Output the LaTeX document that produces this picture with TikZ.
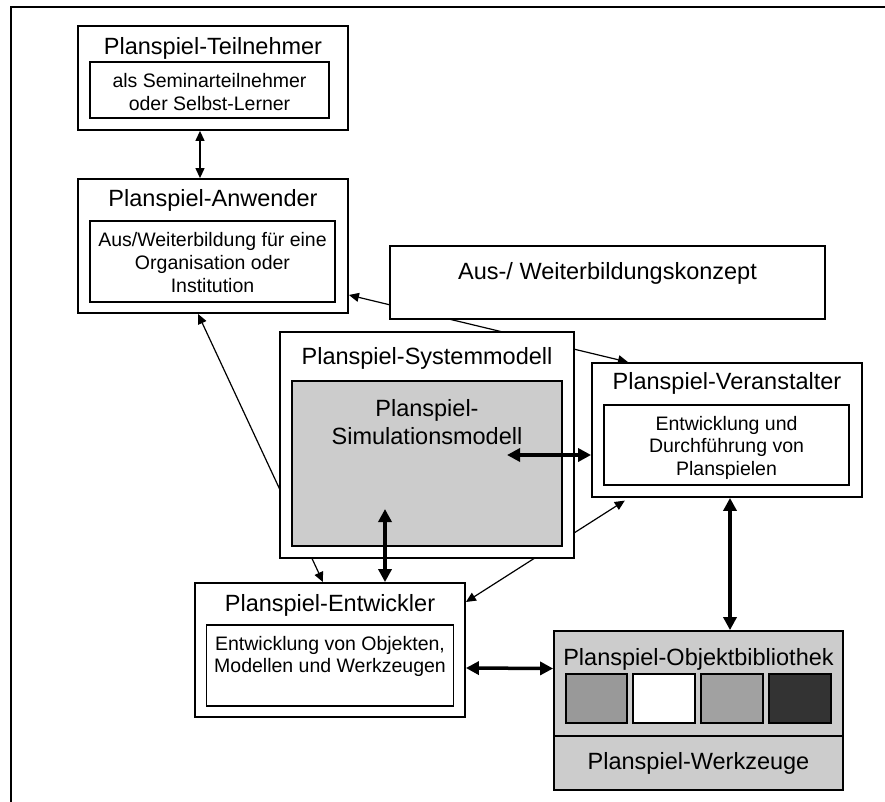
\documentclass[tikz,border=0pt]{standalone}
\usepackage{fontspec}
\setmainfont{Liberation Sans}
\usetikzlibrary{arrows.meta}
\pgfdeclarelayer{bg}
\pgfsetlayers{bg,main}
\begin{document}
\begin{tikzpicture}[x=1pt,y=-1pt,
  box/.style={draw, line width=1.8pt, fill=white, inner sep=0pt, rectangle},
  greybox/.style={box, fill=black!20},
  title/.style={font=\fontsize{23.5}{28}\selectfont, inner sep=0pt},
  sub/.style={font=\fontsize{19.5}{23}\selectfont, align=center, inner sep=0pt},
  thinlink/.style={line width=1.2pt, {Triangle[length=10pt,width=9pt]}-{Triangle[length=10pt,width=9pt]}},
  thicklink/.style={line width=3.5pt, {Triangle[length=13pt,width=13pt]}-{Triangle[length=13pt,width=13pt]}},
  frame/.style={line width=2pt}
]
\useasboundingbox (0,0) rectangle (885,802);

% frame lines
\draw[frame] (11,802) -- (11,7) -- (885,7);

% Teilnehmer
\node[box, minimum width=270pt, minimum height=104pt] (tn) at (213,78) {};
\node[box, minimum width=239pt, minimum height=56pt] (tnI) at (209.5,90) {};
\node[title] (tnT) at (213,48) {Planspiel-Teilnehmer};
\node[sub] (tnS) at (209.5,92) {als Seminarteilnehmer\\oder Selbst-Lerner};

% Anwender
\node[box, minimum width=270pt, minimum height=134pt] (anw) at (213,246) {};
\node[box, minimum width=245pt, minimum height=81pt] (anwI) at (212.5,261.5) {};
\node[title] (anwT) at (213,200) {Planspiel-Anwender};
\node[sub] (anwS) at (212.5,263) {Aus/Weiterbildung für eine\\Organisation oder\\Institution};

% Aus-/Weiterbildungskonzept
\node[box, minimum width=435pt, minimum height=73pt] (aus) at (607.5,282.5) {};
\node[title] (ausT) at (607.5,273) {Aus-/ Weiterbildungskonzept};

% Systemmodell
\node[box, minimum width=294pt, minimum height=226pt] (sys) at (427,445) {};
\node[greybox, minimum width=270pt, minimum height=165pt] (sim) at (427,463.5) {};
\node[title] (sysT) at (427,358) {Planspiel-Systemmodell};
\node[title, align=center, font=\fontsize{23.5}{28}\selectfont] (simT) at (427,422) {Planspiel-\\Simulationsmodell};

% Veranstalter
\node[box, minimum width=270pt, minimum height=134pt] (ver) at (727,430) {};
\node[box, minimum width=245pt, minimum height=80pt] (verI) at (726.5,445) {};
\node[title] (verT) at (727,383) {Planspiel-Veranstalter};
\node[sub, font=\fontsize{19.5}{22.5}\selectfont] (verS) at (726.5,447.5) {Entwicklung und\\Durchführung von\\Planspielen};

% Entwickler
\node[box, minimum width=270pt, minimum height=134pt] (ent) at (330,650) {};
\node[box, minimum width=247pt, minimum height=81pt] (entI) at (330,665.5) {};
\node[title] (entT) at (330,605) {Planspiel-Entwickler};
\node[sub, font=\fontsize{19.5}{22}\selectfont] (entS) at (330,656) {Entwicklung von Objekten,\\Modellen und Werkzeugen};

% Objektbibliothek and Werkzeuge
\node[greybox, minimum width=289pt, minimum height=105pt] (obj) at (698.5,683.5) {};
\node[greybox, minimum width=289pt, minimum height=54pt] (wz) at (698.5,763) {};
\node[title] (objT) at (698.5,659) {Planspiel-Objektbibliothek};
\node[title] (wzT) at (698.5,763) {Planspiel-Werkzeuge};
\node[box, fill=black!40, minimum width=61pt, minimum height=49pt] (sq1) at (596.5,698.5) {};
\node[box, fill=white, minimum width=62pt, minimum height=49pt] (sq2) at (664,698.5) {};
\node[box, fill=black!37, minimum width=62pt, minimum height=49pt] (sq3) at (732,698.5) {};
\node[box, fill=black!80, minimum width=62pt, minimum height=49pt] (sq4) at (800,698.5) {};

% thin connectors, running behind the boxes
\begin{pgfonlayer}{bg}
\draw[thinlink] ([xshift=-13pt]tn.south) -- ([xshift=-13pt]anw.north);
\draw[thinlink] ([yshift=-49pt]anw.east) -- ([xshift=-99pt]ver.north);
\draw[thinlink] ([xshift=-15pt]anw.south) -- ([xshift=-7pt]ent.north);
\draw[thinlink, shorten <=5pt] ([xshift=-98pt]ver.south) -- ([yshift=48pt]ent.east);
\end{pgfonlayer}

% thick connectors
\coordinate (simR) at (507,455);
\coordinate (simB) at (385,509);
\draw[thicklink] (simR) -- ([yshift=-25pt]ver.west);
\draw[thicklink] (simB) -- ([xshift=55pt]ent.north);
\draw[thicklink] ([yshift=-18pt]ent.east) -- ([yshift=15pt]obj.west);
\draw[thicklink] ([xshift=3pt]ver.south) -- ([xshift=31.5pt]obj.north);
\end{tikzpicture}
\end{document}
